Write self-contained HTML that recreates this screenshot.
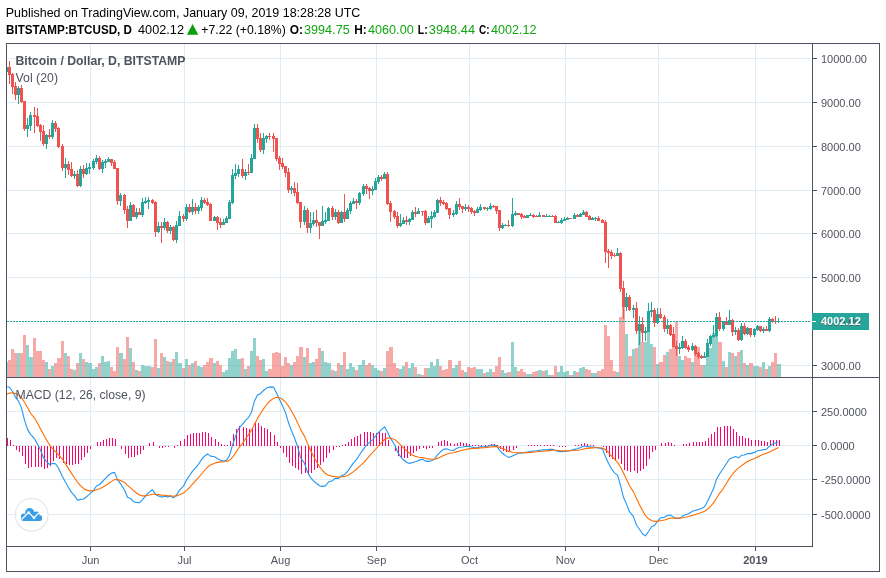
<!DOCTYPE html>
<html><head><meta charset="utf-8"><title>BTCUSD</title>
<style>html,body{margin:0;padding:0;background:#fff}body{width:886px;height:578px;overflow:hidden;font-family:"Liberation Sans",sans-serif}</style></head>
<body>
<svg width="886" height="578" viewBox="0 0 886 578" style="display:block">
<rect width="886" height="578" fill="#fff"/>
<defs><clipPath id="c1"><rect x="7" y="44" width="805" height="333"/></clipPath><clipPath id="c2"><rect x="7" y="378" width="805" height="168"/></clipPath></defs>
<g fill="#E1ECF2" shape-rendering="crispEdges"><rect x="90" y="44" width="1" height="333"/><rect x="90" y="378" width="1" height="168"/><rect x="184" y="44" width="1" height="333"/><rect x="184" y="378" width="1" height="168"/><rect x="280" y="44" width="1" height="333"/><rect x="280" y="378" width="1" height="168"/><rect x="376" y="44" width="1" height="333"/><rect x="376" y="378" width="1" height="168"/><rect x="469" y="44" width="1" height="333"/><rect x="469" y="378" width="1" height="168"/><rect x="565" y="44" width="1" height="333"/><rect x="565" y="378" width="1" height="168"/><rect x="658" y="44" width="1" height="333"/><rect x="658" y="378" width="1" height="168"/><rect x="755" y="44" width="1" height="333"/><rect x="755" y="378" width="1" height="168"/><rect x="7" y="365" width="804" height="1"/><rect x="7" y="321" width="804" height="1"/><rect x="7" y="277" width="804" height="1"/><rect x="7" y="233" width="804" height="1"/><rect x="7" y="190" width="804" height="1"/><rect x="7" y="146" width="804" height="1"/><rect x="7" y="102" width="804" height="1"/><rect x="7" y="58" width="804" height="1"/><rect x="7" y="411" width="804" height="1"/><rect x="7" y="445" width="804" height="1"/><rect x="7" y="479" width="804" height="1"/><rect x="7" y="514" width="804" height="1"/></g>
<g clip-path="url(#c1)" shape-rendering="crispEdges">
<g fill="#EF5350" fill-opacity="0.5"><rect x="8" y="360" width="3" height="17"/><rect x="11" y="349" width="3" height="28"/><rect x="14" y="353" width="3" height="24"/><rect x="20" y="353" width="3" height="24"/><rect x="23" y="335" width="3" height="42"/><rect x="33" y="338" width="3" height="39"/><rect x="36" y="351" width="3" height="26"/><rect x="39" y="351" width="3" height="26"/><rect x="42" y="360" width="3" height="17"/><rect x="48" y="369" width="3" height="8"/><rect x="54" y="363" width="3" height="14"/><rect x="57" y="358" width="4" height="19"/><rect x="61" y="341" width="3" height="36"/><rect x="67" y="356" width="3" height="21"/><rect x="70" y="369" width="3" height="8"/><rect x="76" y="363" width="3" height="14"/><rect x="82" y="359" width="3" height="18"/><rect x="98" y="363" width="3" height="14"/><rect x="110" y="367" width="3" height="10"/><rect x="113" y="371" width="3" height="6"/><rect x="116" y="347" width="3" height="30"/><rect x="123" y="359" width="3" height="18"/><rect x="126" y="337" width="3" height="40"/><rect x="132" y="362" width="3" height="15"/><rect x="138" y="371" width="3" height="6"/><rect x="151" y="367" width="3" height="10"/><rect x="154" y="339" width="3" height="38"/><rect x="160" y="353" width="3" height="24"/><rect x="166" y="361" width="3" height="16"/><rect x="172" y="359" width="3" height="18"/><rect x="182" y="368" width="3" height="9"/><rect x="188" y="365" width="3" height="12"/><rect x="194" y="361" width="3" height="16"/><rect x="203" y="365" width="3" height="12"/><rect x="206" y="362" width="3" height="15"/><rect x="209" y="358" width="4" height="19"/><rect x="216" y="361" width="3" height="16"/><rect x="219" y="365" width="3" height="12"/><rect x="241" y="358" width="3" height="19"/><rect x="247" y="366" width="3" height="11"/><rect x="256" y="356" width="3" height="21"/><rect x="259" y="360" width="3" height="17"/><rect x="268" y="369" width="4" height="8"/><rect x="272" y="353" width="3" height="24"/><rect x="275" y="352" width="3" height="25"/><rect x="278" y="353" width="3" height="24"/><rect x="281" y="366" width="3" height="11"/><rect x="284" y="357" width="3" height="20"/><rect x="287" y="363" width="3" height="14"/><rect x="293" y="362" width="3" height="15"/><rect x="296" y="356" width="3" height="21"/><rect x="299" y="347" width="4" height="30"/><rect x="306" y="348" width="3" height="29"/><rect x="315" y="359" width="3" height="18"/><rect x="318" y="348" width="3" height="29"/><rect x="331" y="370" width="3" height="7"/><rect x="337" y="363" width="3" height="14"/><rect x="343" y="352" width="3" height="25"/><rect x="355" y="370" width="3" height="7"/><rect x="365" y="365" width="3" height="12"/><rect x="368" y="363" width="3" height="14"/><rect x="380" y="371" width="3" height="6"/><rect x="386" y="351" width="3" height="26"/><rect x="389" y="347" width="4" height="30"/><rect x="393" y="363" width="3" height="14"/><rect x="396" y="368" width="3" height="9"/><rect x="405" y="362" width="3" height="15"/><rect x="414" y="367" width="3" height="10"/><rect x="421" y="375" width="3" height="2"/><rect x="424" y="368" width="3" height="9"/><rect x="439" y="366" width="3" height="11"/><rect x="442" y="370" width="3" height="7"/><rect x="445" y="369" width="3" height="8"/><rect x="448" y="360" width="4" height="17"/><rect x="458" y="361" width="3" height="16"/><rect x="461" y="370" width="3" height="7"/><rect x="467" y="367" width="3" height="10"/><rect x="470" y="368" width="3" height="9"/><rect x="473" y="367" width="3" height="10"/><rect x="483" y="373" width="3" height="4"/><rect x="492" y="372" width="3" height="5"/><rect x="495" y="366" width="3" height="11"/><rect x="498" y="357" width="3" height="20"/><rect x="507" y="372" width="4" height="5"/><rect x="517" y="371" width="3" height="6"/><rect x="520" y="369" width="3" height="8"/><rect x="523" y="372" width="3" height="5"/><rect x="532" y="372" width="3" height="5"/><rect x="535" y="371" width="3" height="6"/><rect x="542" y="371" width="3" height="6"/><rect x="551" y="375" width="3" height="2"/><rect x="554" y="366" width="3" height="11"/><rect x="569" y="375" width="4" height="2"/><rect x="576" y="372" width="3" height="5"/><rect x="585" y="369" width="3" height="8"/><rect x="588" y="370" width="3" height="7"/><rect x="597" y="371" width="4" height="6"/><rect x="601" y="369" width="3" height="8"/><rect x="604" y="325" width="3" height="52"/><rect x="607" y="336" width="3" height="41"/><rect x="610" y="360" width="3" height="17"/><rect x="613" y="371" width="3" height="6"/><rect x="619" y="317" width="3" height="60"/><rect x="622" y="297" width="3" height="80"/><rect x="628" y="356" width="4" height="21"/><rect x="635" y="348" width="3" height="29"/><rect x="641" y="342" width="3" height="35"/><rect x="653" y="347" width="3" height="30"/><rect x="659" y="362" width="4" height="15"/><rect x="663" y="355" width="3" height="22"/><rect x="669" y="349" width="3" height="28"/><rect x="672" y="347" width="3" height="30"/><rect x="675" y="322" width="3" height="55"/><rect x="684" y="356" width="3" height="21"/><rect x="687" y="358" width="4" height="19"/><rect x="694" y="347" width="3" height="30"/><rect x="697" y="347" width="3" height="30"/><rect x="700" y="365" width="3" height="12"/><rect x="718" y="342" width="4" height="35"/><rect x="725" y="367" width="3" height="10"/><rect x="731" y="353" width="3" height="24"/><rect x="737" y="352" width="3" height="25"/><rect x="743" y="363" width="3" height="14"/><rect x="749" y="363" width="4" height="14"/><rect x="759" y="367" width="3" height="10"/><rect x="765" y="369" width="3" height="8"/><rect x="771" y="362" width="3" height="15"/><rect x="774" y="353" width="3" height="24"/></g>
<g fill="#26A69A" fill-opacity="0.5"><rect x="5" y="362" width="3" height="15"/><rect x="17" y="353" width="3" height="24"/><rect x="26" y="345" width="3" height="32"/><rect x="29" y="357" width="4" height="20"/><rect x="45" y="362" width="3" height="15"/><rect x="51" y="366" width="3" height="11"/><rect x="64" y="353" width="3" height="24"/><rect x="73" y="370" width="3" height="7"/><rect x="79" y="353" width="3" height="24"/><rect x="85" y="362" width="3" height="15"/><rect x="88" y="363" width="4" height="14"/><rect x="92" y="369" width="3" height="8"/><rect x="95" y="367" width="3" height="10"/><rect x="101" y="356" width="3" height="21"/><rect x="104" y="362" width="3" height="15"/><rect x="107" y="361" width="3" height="16"/><rect x="119" y="353" width="4" height="24"/><rect x="129" y="348" width="3" height="29"/><rect x="135" y="370" width="3" height="7"/><rect x="141" y="365" width="3" height="12"/><rect x="144" y="366" width="3" height="11"/><rect x="147" y="366" width="4" height="11"/><rect x="157" y="368" width="3" height="9"/><rect x="163" y="357" width="3" height="20"/><rect x="169" y="362" width="3" height="15"/><rect x="175" y="352" width="3" height="25"/><rect x="178" y="363" width="4" height="14"/><rect x="185" y="359" width="3" height="18"/><rect x="191" y="363" width="3" height="14"/><rect x="197" y="366" width="3" height="11"/><rect x="200" y="367" width="3" height="10"/><rect x="213" y="363" width="3" height="14"/><rect x="222" y="372" width="3" height="5"/><rect x="225" y="370" width="3" height="7"/><rect x="228" y="358" width="3" height="19"/><rect x="231" y="351" width="3" height="26"/><rect x="234" y="349" width="3" height="28"/><rect x="237" y="359" width="4" height="18"/><rect x="244" y="369" width="3" height="8"/><rect x="250" y="351" width="3" height="26"/><rect x="253" y="338" width="3" height="39"/><rect x="262" y="359" width="3" height="18"/><rect x="265" y="371" width="3" height="6"/><rect x="290" y="365" width="3" height="12"/><rect x="303" y="357" width="3" height="20"/><rect x="309" y="363" width="3" height="14"/><rect x="312" y="362" width="3" height="15"/><rect x="321" y="351" width="3" height="26"/><rect x="324" y="362" width="3" height="15"/><rect x="327" y="363" width="4" height="14"/><rect x="334" y="371" width="3" height="6"/><rect x="340" y="365" width="3" height="12"/><rect x="346" y="369" width="3" height="8"/><rect x="349" y="363" width="3" height="14"/><rect x="352" y="367" width="3" height="10"/><rect x="358" y="365" width="4" height="12"/><rect x="362" y="360" width="3" height="17"/><rect x="371" y="365" width="3" height="12"/><rect x="374" y="368" width="3" height="9"/><rect x="377" y="370" width="3" height="7"/><rect x="383" y="368" width="3" height="9"/><rect x="399" y="369" width="3" height="8"/><rect x="402" y="366" width="3" height="11"/><rect x="408" y="368" width="3" height="9"/><rect x="411" y="363" width="3" height="14"/><rect x="417" y="374" width="4" height="3"/><rect x="427" y="368" width="3" height="9"/><rect x="430" y="362" width="3" height="15"/><rect x="433" y="366" width="3" height="11"/><rect x="436" y="359" width="3" height="18"/><rect x="452" y="368" width="3" height="9"/><rect x="455" y="365" width="3" height="12"/><rect x="464" y="372" width="3" height="5"/><rect x="476" y="369" width="3" height="8"/><rect x="479" y="369" width="4" height="8"/><rect x="486" y="372" width="3" height="5"/><rect x="489" y="369" width="3" height="8"/><rect x="501" y="370" width="3" height="7"/><rect x="504" y="373" width="3" height="4"/><rect x="511" y="342" width="3" height="35"/><rect x="514" y="367" width="3" height="10"/><rect x="526" y="374" width="3" height="3"/><rect x="529" y="374" width="3" height="3"/><rect x="538" y="370" width="4" height="7"/><rect x="545" y="370" width="3" height="7"/><rect x="548" y="375" width="3" height="2"/><rect x="557" y="372" width="3" height="5"/><rect x="560" y="366" width="3" height="11"/><rect x="563" y="372" width="3" height="5"/><rect x="566" y="371" width="3" height="6"/><rect x="573" y="371" width="3" height="6"/><rect x="579" y="368" width="3" height="9"/><rect x="582" y="367" width="3" height="10"/><rect x="591" y="373" width="3" height="4"/><rect x="594" y="373" width="3" height="4"/><rect x="616" y="372" width="3" height="5"/><rect x="625" y="334" width="3" height="43"/><rect x="632" y="349" width="3" height="28"/><rect x="638" y="329" width="3" height="48"/><rect x="644" y="342" width="3" height="35"/><rect x="647" y="332" width="3" height="45"/><rect x="650" y="344" width="3" height="33"/><rect x="656" y="364" width="3" height="13"/><rect x="666" y="352" width="3" height="25"/><rect x="678" y="356" width="3" height="21"/><rect x="681" y="360" width="3" height="17"/><rect x="691" y="362" width="3" height="15"/><rect x="703" y="365" width="3" height="12"/><rect x="706" y="355" width="3" height="22"/><rect x="709" y="348" width="3" height="29"/><rect x="712" y="333" width="3" height="44"/><rect x="715" y="336" width="3" height="41"/><rect x="722" y="361" width="3" height="16"/><rect x="728" y="352" width="3" height="25"/><rect x="734" y="356" width="3" height="21"/><rect x="740" y="350" width="3" height="27"/><rect x="746" y="365" width="3" height="12"/><rect x="753" y="366" width="3" height="11"/><rect x="756" y="366" width="3" height="11"/><rect x="762" y="362" width="3" height="15"/><rect x="768" y="366" width="3" height="11"/><rect x="777" y="364" width="4" height="13"/></g>
<g fill="#EF5350"><rect x="9" y="61" width="1" height="23"/><rect x="8" y="67" width="3" height="8"/><rect x="12" y="73" width="1" height="21"/><rect x="11" y="74" width="3" height="13"/><rect x="15" y="82" width="1" height="18"/><rect x="14" y="86" width="3" height="9"/><rect x="21" y="85" width="1" height="18"/><rect x="20" y="88" width="3" height="14"/><rect x="24" y="101" width="1" height="30"/><rect x="23" y="101" width="3" height="28"/><rect x="34" y="107" width="1" height="26"/><rect x="33" y="115" width="3" height="2"/><rect x="37" y="108" width="1" height="19"/><rect x="36" y="116" width="3" height="10"/><rect x="40" y="124" width="1" height="17"/><rect x="39" y="125" width="3" height="7"/><rect x="43" y="125" width="1" height="21"/><rect x="42" y="131" width="3" height="13"/><rect x="49" y="129" width="1" height="10"/><rect x="48" y="135" width="3" height="2"/><rect x="55" y="121" width="1" height="11"/><rect x="54" y="123" width="3" height="6"/><rect x="58" y="127" width="1" height="21"/><rect x="57" y="128" width="3" height="19"/><rect x="62" y="144" width="1" height="27"/><rect x="61" y="146" width="3" height="22"/><rect x="68" y="161" width="1" height="14"/><rect x="67" y="164" width="3" height="6"/><rect x="71" y="162" width="1" height="15"/><rect x="70" y="169" width="3" height="7"/><rect x="77" y="170" width="1" height="17"/><rect x="76" y="174" width="3" height="12"/><rect x="83" y="165" width="1" height="13"/><rect x="82" y="169" width="3" height="5"/><rect x="99" y="156" width="1" height="14"/><rect x="98" y="158" width="3" height="11"/><rect x="111" y="159" width="1" height="7"/><rect x="110" y="159" width="3" height="4"/><rect x="114" y="160" width="1" height="9"/><rect x="113" y="162" width="3" height="7"/><rect x="117" y="168" width="1" height="37"/><rect x="116" y="168" width="3" height="33"/><rect x="124" y="194" width="1" height="20"/><rect x="123" y="195" width="3" height="15"/><rect x="127" y="206" width="1" height="22"/><rect x="126" y="209" width="3" height="12"/><rect x="133" y="204" width="1" height="13"/><rect x="132" y="205" width="3" height="12"/><rect x="139" y="208" width="1" height="7"/><rect x="138" y="212" width="3" height="3"/><rect x="152" y="199" width="1" height="5"/><rect x="151" y="200" width="3" height="3"/><rect x="155" y="201" width="1" height="36"/><rect x="154" y="202" width="3" height="30"/><rect x="161" y="222" width="1" height="21"/><rect x="160" y="226" width="3" height="2"/><rect x="167" y="221" width="1" height="12"/><rect x="166" y="222" width="3" height="9"/><rect x="173" y="226" width="1" height="15"/><rect x="172" y="227" width="3" height="13"/><rect x="183" y="214" width="1" height="8"/><rect x="182" y="216" width="3" height="3"/><rect x="189" y="204" width="1" height="9"/><rect x="188" y="207" width="3" height="5"/><rect x="195" y="203" width="1" height="11"/><rect x="194" y="207" width="3" height="4"/><rect x="204" y="198" width="1" height="6"/><rect x="203" y="200" width="3" height="3"/><rect x="207" y="198" width="1" height="8"/><rect x="206" y="202" width="3" height="3"/><rect x="210" y="203" width="1" height="18"/><rect x="209" y="204" width="3" height="17"/><rect x="217" y="216" width="1" height="14"/><rect x="216" y="217" width="3" height="6"/><rect x="220" y="218" width="1" height="10"/><rect x="219" y="222" width="3" height="3"/><rect x="242" y="159" width="1" height="19"/><rect x="241" y="169" width="3" height="7"/><rect x="248" y="164" width="1" height="11"/><rect x="247" y="172" width="3" height="1"/><rect x="257" y="124" width="1" height="19"/><rect x="256" y="128" width="3" height="11"/><rect x="260" y="133" width="1" height="19"/><rect x="259" y="138" width="3" height="12"/><rect x="269" y="133" width="1" height="7"/><rect x="268" y="136" width="3" height="1"/><rect x="273" y="133" width="1" height="19"/><rect x="272" y="136" width="3" height="3"/><rect x="276" y="138" width="1" height="23"/><rect x="275" y="138" width="3" height="21"/><rect x="279" y="156" width="1" height="14"/><rect x="278" y="158" width="3" height="6"/><rect x="282" y="158" width="1" height="11"/><rect x="281" y="163" width="3" height="4"/><rect x="285" y="166" width="1" height="11"/><rect x="284" y="166" width="3" height="7"/><rect x="288" y="168" width="1" height="25"/><rect x="287" y="172" width="3" height="18"/><rect x="294" y="182" width="1" height="14"/><rect x="293" y="188" width="3" height="5"/><rect x="297" y="183" width="1" height="21"/><rect x="296" y="192" width="3" height="11"/><rect x="300" y="202" width="1" height="26"/><rect x="299" y="202" width="3" height="20"/><rect x="307" y="208" width="1" height="25"/><rect x="306" y="210" width="3" height="18"/><rect x="316" y="210" width="1" height="17"/><rect x="315" y="220" width="3" height="3"/><rect x="319" y="222" width="1" height="17"/><rect x="318" y="222" width="3" height="4"/><rect x="332" y="206" width="1" height="14"/><rect x="331" y="208" width="3" height="9"/><rect x="338" y="210" width="1" height="14"/><rect x="337" y="212" width="3" height="11"/><rect x="344" y="194" width="1" height="28"/><rect x="343" y="212" width="3" height="7"/><rect x="356" y="199" width="1" height="10"/><rect x="355" y="201" width="3" height="2"/><rect x="366" y="184" width="1" height="10"/><rect x="365" y="186" width="3" height="3"/><rect x="369" y="187" width="1" height="12"/><rect x="368" y="188" width="3" height="3"/><rect x="381" y="175" width="1" height="6"/><rect x="380" y="177" width="3" height="2"/><rect x="387" y="172" width="1" height="33"/><rect x="386" y="174" width="3" height="30"/><rect x="390" y="201" width="1" height="21"/><rect x="389" y="203" width="3" height="9"/><rect x="394" y="210" width="1" height="9"/><rect x="393" y="211" width="3" height="6"/><rect x="397" y="212" width="1" height="16"/><rect x="396" y="216" width="3" height="10"/><rect x="406" y="216" width="1" height="9"/><rect x="405" y="220" width="3" height="2"/><rect x="415" y="207" width="1" height="10"/><rect x="414" y="212" width="3" height="2"/><rect x="422" y="211" width="1" height="5"/><rect x="421" y="211" width="3" height="1"/><rect x="425" y="210" width="1" height="15"/><rect x="424" y="211" width="3" height="12"/><rect x="440" y="197" width="1" height="9"/><rect x="439" y="200" width="3" height="3"/><rect x="443" y="200" width="1" height="5"/><rect x="442" y="202" width="3" height="2"/><rect x="446" y="202" width="1" height="8"/><rect x="445" y="203" width="3" height="6"/><rect x="449" y="208" width="1" height="11"/><rect x="448" y="208" width="3" height="7"/><rect x="459" y="198" width="1" height="12"/><rect x="458" y="204" width="3" height="3"/><rect x="462" y="206" width="1" height="7"/><rect x="461" y="206" width="3" height="3"/><rect x="468" y="205" width="1" height="7"/><rect x="467" y="207" width="3" height="2"/><rect x="471" y="207" width="1" height="7"/><rect x="470" y="208" width="3" height="4"/><rect x="474" y="210" width="1" height="6"/><rect x="473" y="211" width="3" height="2"/><rect x="484" y="207" width="1" height="3"/><rect x="483" y="207" width="3" height="2"/><rect x="493" y="205" width="1" height="3"/><rect x="492" y="206" width="3" height="1"/><rect x="496" y="206" width="1" height="8"/><rect x="495" y="206" width="3" height="5"/><rect x="499" y="210" width="1" height="21"/><rect x="498" y="210" width="3" height="18"/><rect x="508" y="220" width="1" height="7"/><rect x="507" y="225" width="3" height="1"/><rect x="518" y="213" width="1" height="2"/><rect x="517" y="213" width="3" height="2"/><rect x="521" y="213" width="1" height="6"/><rect x="520" y="214" width="3" height="3"/><rect x="524" y="215" width="1" height="3"/><rect x="523" y="216" width="3" height="2"/><rect x="533" y="214" width="1" height="4"/><rect x="532" y="215" width="3" height="2"/><rect x="536" y="215" width="1" height="2"/><rect x="535" y="216" width="3" height="1"/><rect x="543" y="215" width="1" height="2"/><rect x="542" y="215" width="3" height="2"/><rect x="552" y="215" width="1" height="2"/><rect x="551" y="216" width="3" height="1"/><rect x="555" y="215" width="1" height="8"/><rect x="554" y="216" width="3" height="7"/><rect x="570" y="218" width="1" height="1"/><rect x="569" y="218" width="3" height="1"/><rect x="577" y="214" width="1" height="3"/><rect x="576" y="215" width="3" height="2"/><rect x="586" y="211" width="1" height="6"/><rect x="585" y="212" width="3" height="5"/><rect x="589" y="215" width="1" height="5"/><rect x="588" y="216" width="3" height="4"/><rect x="598" y="216" width="1" height="5"/><rect x="597" y="218" width="3" height="3"/><rect x="602" y="219" width="1" height="4"/><rect x="601" y="220" width="3" height="3"/><rect x="605" y="220" width="1" height="43"/><rect x="604" y="222" width="3" height="30"/><rect x="608" y="249" width="1" height="19"/><rect x="607" y="251" width="3" height="2"/><rect x="611" y="250" width="1" height="9"/><rect x="610" y="252" width="3" height="4"/><rect x="614" y="253" width="1" height="4"/><rect x="613" y="255" width="3" height="1"/><rect x="620" y="252" width="1" height="40"/><rect x="619" y="253" width="3" height="36"/><rect x="623" y="281" width="1" height="38"/><rect x="622" y="288" width="3" height="19"/><rect x="629" y="295" width="1" height="16"/><rect x="628" y="297" width="3" height="13"/><rect x="636" y="302" width="1" height="32"/><rect x="635" y="308" width="3" height="23"/><rect x="642" y="317" width="1" height="25"/><rect x="641" y="324" width="3" height="9"/><rect x="654" y="308" width="1" height="19"/><rect x="653" y="310" width="3" height="13"/><rect x="660" y="308" width="1" height="11"/><rect x="659" y="314" width="3" height="4"/><rect x="664" y="315" width="1" height="17"/><rect x="663" y="317" width="3" height="12"/><rect x="670" y="324" width="1" height="12"/><rect x="669" y="325" width="3" height="10"/><rect x="673" y="327" width="1" height="20"/><rect x="672" y="334" width="3" height="13"/><rect x="676" y="341" width="1" height="15"/><rect x="675" y="346" width="3" height="3"/><rect x="685" y="339" width="1" height="10"/><rect x="684" y="341" width="3" height="7"/><rect x="688" y="345" width="1" height="7"/><rect x="687" y="347" width="3" height="3"/><rect x="695" y="345" width="1" height="11"/><rect x="694" y="346" width="3" height="8"/><rect x="698" y="352" width="1" height="7"/><rect x="697" y="353" width="3" height="4"/><rect x="701" y="355" width="1" height="4"/><rect x="700" y="356" width="3" height="2"/><rect x="719" y="312" width="1" height="19"/><rect x="718" y="317" width="3" height="12"/><rect x="726" y="317" width="1" height="8"/><rect x="725" y="322" width="3" height="3"/><rect x="732" y="319" width="1" height="17"/><rect x="731" y="320" width="3" height="12"/><rect x="738" y="328" width="1" height="13"/><rect x="737" y="330" width="3" height="10"/><rect x="744" y="323" width="1" height="12"/><rect x="743" y="326" width="3" height="8"/><rect x="750" y="328" width="1" height="9"/><rect x="749" y="328" width="3" height="7"/><rect x="760" y="326" width="1" height="6"/><rect x="759" y="326" width="3" height="5"/><rect x="766" y="326" width="1" height="5"/><rect x="765" y="329" width="3" height="2"/><rect x="772" y="318" width="1" height="5"/><rect x="771" y="319" width="3" height="3"/><rect x="775" y="316" width="1" height="8"/><rect x="774" y="321" width="3" height="1"/></g>
<g fill="#26A69A"><rect x="6" y="60" width="1" height="13"/><rect x="5" y="67" width="3" height="5"/><rect x="18" y="86" width="1" height="18"/><rect x="17" y="88" width="3" height="7"/><rect x="27" y="118" width="1" height="19"/><rect x="26" y="125" width="3" height="4"/><rect x="30" y="112" width="1" height="19"/><rect x="29" y="115" width="3" height="11"/><rect x="46" y="134" width="1" height="15"/><rect x="45" y="135" width="3" height="9"/><rect x="52" y="120" width="1" height="19"/><rect x="51" y="123" width="3" height="14"/><rect x="65" y="158" width="1" height="20"/><rect x="64" y="164" width="3" height="4"/><rect x="74" y="171" width="1" height="8"/><rect x="73" y="174" width="3" height="2"/><rect x="80" y="166" width="1" height="21"/><rect x="79" y="169" width="3" height="17"/><rect x="86" y="163" width="1" height="12"/><rect x="85" y="168" width="3" height="6"/><rect x="89" y="163" width="1" height="11"/><rect x="88" y="167" width="3" height="2"/><rect x="93" y="159" width="1" height="11"/><rect x="92" y="161" width="3" height="7"/><rect x="96" y="155" width="1" height="9"/><rect x="95" y="158" width="3" height="4"/><rect x="102" y="160" width="1" height="13"/><rect x="101" y="162" width="3" height="7"/><rect x="105" y="159" width="1" height="9"/><rect x="104" y="161" width="3" height="2"/><rect x="108" y="157" width="1" height="5"/><rect x="107" y="159" width="3" height="3"/><rect x="120" y="193" width="1" height="13"/><rect x="119" y="195" width="3" height="6"/><rect x="130" y="202" width="1" height="19"/><rect x="129" y="205" width="3" height="16"/><rect x="136" y="208" width="1" height="11"/><rect x="135" y="212" width="3" height="5"/><rect x="142" y="198" width="1" height="19"/><rect x="141" y="202" width="3" height="13"/><rect x="145" y="197" width="1" height="7"/><rect x="144" y="201" width="3" height="2"/><rect x="148" y="197" width="1" height="12"/><rect x="147" y="200" width="3" height="2"/><rect x="158" y="222" width="1" height="11"/><rect x="157" y="226" width="3" height="6"/><rect x="164" y="218" width="1" height="12"/><rect x="163" y="222" width="3" height="6"/><rect x="170" y="225" width="1" height="9"/><rect x="169" y="227" width="3" height="4"/><rect x="176" y="221" width="1" height="22"/><rect x="175" y="225" width="3" height="15"/><rect x="179" y="211" width="1" height="15"/><rect x="178" y="216" width="3" height="10"/><rect x="186" y="204" width="1" height="17"/><rect x="185" y="207" width="3" height="12"/><rect x="192" y="199" width="1" height="16"/><rect x="191" y="207" width="3" height="5"/><rect x="198" y="205" width="1" height="9"/><rect x="197" y="207" width="3" height="4"/><rect x="201" y="197" width="1" height="14"/><rect x="200" y="200" width="3" height="8"/><rect x="214" y="216" width="1" height="5"/><rect x="213" y="217" width="3" height="4"/><rect x="223" y="219" width="1" height="6"/><rect x="222" y="222" width="3" height="3"/><rect x="226" y="216" width="1" height="7"/><rect x="225" y="218" width="3" height="5"/><rect x="229" y="200" width="1" height="19"/><rect x="228" y="202" width="3" height="17"/><rect x="232" y="169" width="1" height="35"/><rect x="231" y="175" width="3" height="28"/><rect x="235" y="164" width="1" height="15"/><rect x="234" y="173" width="3" height="3"/><rect x="238" y="165" width="1" height="12"/><rect x="237" y="169" width="3" height="5"/><rect x="245" y="169" width="1" height="11"/><rect x="244" y="172" width="3" height="4"/><rect x="251" y="154" width="1" height="19"/><rect x="250" y="158" width="3" height="15"/><rect x="254" y="124" width="1" height="35"/><rect x="253" y="128" width="3" height="31"/><rect x="263" y="133" width="1" height="21"/><rect x="262" y="138" width="3" height="12"/><rect x="266" y="135" width="1" height="8"/><rect x="265" y="136" width="3" height="3"/><rect x="291" y="186" width="1" height="8"/><rect x="290" y="188" width="3" height="2"/><rect x="304" y="206" width="1" height="19"/><rect x="303" y="210" width="3" height="12"/><rect x="310" y="212" width="1" height="21"/><rect x="309" y="223" width="3" height="5"/><rect x="313" y="212" width="1" height="14"/><rect x="312" y="220" width="3" height="4"/><rect x="322" y="206" width="1" height="20"/><rect x="321" y="221" width="3" height="5"/><rect x="325" y="212" width="1" height="12"/><rect x="324" y="220" width="3" height="2"/><rect x="328" y="207" width="1" height="14"/><rect x="327" y="208" width="3" height="13"/><rect x="335" y="209" width="1" height="11"/><rect x="334" y="212" width="3" height="5"/><rect x="341" y="211" width="1" height="12"/><rect x="340" y="212" width="3" height="11"/><rect x="347" y="208" width="1" height="11"/><rect x="346" y="210" width="3" height="9"/><rect x="350" y="201" width="1" height="13"/><rect x="349" y="203" width="3" height="8"/><rect x="353" y="198" width="1" height="6"/><rect x="352" y="201" width="3" height="3"/><rect x="359" y="192" width="1" height="13"/><rect x="358" y="193" width="3" height="10"/><rect x="363" y="184" width="1" height="12"/><rect x="362" y="186" width="3" height="8"/><rect x="372" y="186" width="1" height="9"/><rect x="371" y="189" width="3" height="2"/><rect x="375" y="178" width="1" height="12"/><rect x="374" y="181" width="3" height="9"/><rect x="378" y="175" width="1" height="9"/><rect x="377" y="177" width="3" height="5"/><rect x="384" y="172" width="1" height="7"/><rect x="383" y="174" width="3" height="5"/><rect x="400" y="214" width="1" height="13"/><rect x="399" y="223" width="3" height="3"/><rect x="403" y="217" width="1" height="7"/><rect x="402" y="220" width="3" height="4"/><rect x="409" y="218" width="1" height="7"/><rect x="408" y="219" width="3" height="3"/><rect x="412" y="210" width="1" height="10"/><rect x="411" y="212" width="3" height="8"/><rect x="418" y="208" width="1" height="6"/><rect x="417" y="211" width="3" height="3"/><rect x="428" y="216" width="1" height="7"/><rect x="427" y="218" width="3" height="5"/><rect x="431" y="211" width="1" height="17"/><rect x="430" y="216" width="3" height="3"/><rect x="434" y="210" width="1" height="8"/><rect x="433" y="212" width="3" height="5"/><rect x="437" y="199" width="1" height="14"/><rect x="436" y="200" width="3" height="13"/><rect x="453" y="210" width="1" height="7"/><rect x="452" y="213" width="3" height="2"/><rect x="456" y="201" width="1" height="14"/><rect x="455" y="204" width="3" height="10"/><rect x="465" y="204" width="1" height="7"/><rect x="464" y="207" width="3" height="2"/><rect x="477" y="207" width="1" height="6"/><rect x="476" y="209" width="3" height="4"/><rect x="480" y="204" width="1" height="7"/><rect x="479" y="207" width="3" height="3"/><rect x="487" y="207" width="1" height="4"/><rect x="486" y="208" width="3" height="1"/><rect x="490" y="203" width="1" height="7"/><rect x="489" y="206" width="3" height="3"/><rect x="502" y="223" width="1" height="6"/><rect x="501" y="225" width="3" height="3"/><rect x="505" y="224" width="1" height="2"/><rect x="504" y="225" width="3" height="1"/><rect x="512" y="198" width="1" height="29"/><rect x="511" y="214" width="3" height="12"/><rect x="515" y="211" width="1" height="5"/><rect x="514" y="213" width="3" height="2"/><rect x="527" y="215" width="1" height="3"/><rect x="526" y="215" width="3" height="3"/><rect x="530" y="213" width="1" height="3"/><rect x="529" y="215" width="3" height="1"/><rect x="539" y="212" width="1" height="5"/><rect x="538" y="215" width="3" height="2"/><rect x="546" y="214" width="1" height="3"/><rect x="545" y="216" width="3" height="1"/><rect x="549" y="215" width="1" height="2"/><rect x="548" y="216" width="3" height="1"/><rect x="558" y="221" width="1" height="2"/><rect x="557" y="222" width="3" height="1"/><rect x="561" y="218" width="1" height="6"/><rect x="560" y="220" width="3" height="3"/><rect x="564" y="217" width="1" height="4"/><rect x="563" y="219" width="3" height="2"/><rect x="567" y="217" width="1" height="3"/><rect x="566" y="218" width="3" height="2"/><rect x="574" y="213" width="1" height="6"/><rect x="573" y="215" width="3" height="4"/><rect x="580" y="213" width="1" height="4"/><rect x="579" y="214" width="3" height="3"/><rect x="583" y="210" width="1" height="5"/><rect x="582" y="212" width="3" height="3"/><rect x="592" y="217" width="1" height="3"/><rect x="591" y="218" width="3" height="2"/><rect x="595" y="217" width="1" height="4"/><rect x="594" y="218" width="3" height="1"/><rect x="617" y="248" width="1" height="8"/><rect x="616" y="253" width="3" height="3"/><rect x="626" y="293" width="1" height="18"/><rect x="625" y="297" width="3" height="10"/><rect x="633" y="305" width="1" height="13"/><rect x="632" y="308" width="3" height="2"/><rect x="639" y="316" width="1" height="29"/><rect x="638" y="324" width="3" height="7"/><rect x="645" y="327" width="1" height="14"/><rect x="644" y="331" width="3" height="2"/><rect x="648" y="303" width="1" height="29"/><rect x="647" y="311" width="3" height="21"/><rect x="651" y="302" width="1" height="15"/><rect x="650" y="310" width="3" height="2"/><rect x="657" y="308" width="1" height="16"/><rect x="656" y="314" width="3" height="9"/><rect x="667" y="319" width="1" height="15"/><rect x="666" y="325" width="3" height="4"/><rect x="679" y="343" width="1" height="11"/><rect x="678" y="347" width="3" height="2"/><rect x="682" y="336" width="1" height="13"/><rect x="681" y="341" width="3" height="7"/><rect x="692" y="343" width="1" height="8"/><rect x="691" y="346" width="3" height="4"/><rect x="704" y="352" width="1" height="6"/><rect x="703" y="356" width="3" height="2"/><rect x="707" y="339" width="1" height="18"/><rect x="706" y="343" width="3" height="14"/><rect x="710" y="335" width="1" height="11"/><rect x="709" y="336" width="3" height="8"/><rect x="713" y="325" width="1" height="13"/><rect x="712" y="335" width="3" height="2"/><rect x="716" y="313" width="1" height="24"/><rect x="715" y="317" width="3" height="19"/><rect x="723" y="321" width="1" height="10"/><rect x="722" y="322" width="3" height="7"/><rect x="729" y="310" width="1" height="15"/><rect x="728" y="320" width="3" height="5"/><rect x="735" y="327" width="1" height="8"/><rect x="734" y="330" width="3" height="2"/><rect x="741" y="323" width="1" height="18"/><rect x="740" y="326" width="3" height="14"/><rect x="747" y="327" width="1" height="8"/><rect x="746" y="328" width="3" height="6"/><rect x="754" y="328" width="1" height="9"/><rect x="753" y="329" width="3" height="6"/><rect x="757" y="325" width="1" height="6"/><rect x="756" y="326" width="3" height="4"/><rect x="763" y="327" width="1" height="6"/><rect x="762" y="329" width="3" height="2"/><rect x="769" y="317" width="1" height="15"/><rect x="768" y="319" width="3" height="12"/><rect x="778" y="318" width="1" height="5"/><rect x="777" y="321" width="3" height="1"/></g>
</g>
<line x1="7" y1="321.5" x2="810" y2="321.5" stroke="#26A69A" stroke-width="1" stroke-dasharray="2 1" shape-rendering="crispEdges"/>
<g clip-path="url(#c2)">
<g fill="#FF006E" shape-rendering="crispEdges"><rect x="7" y="438" width="1" height="8"/><rect x="10" y="440" width="1" height="6"/><rect x="13" y="445" width="1" height="1"/><rect x="16" y="446" width="1" height="4"/><rect x="19" y="446" width="1" height="6"/><rect x="22" y="446" width="1" height="10"/><rect x="25" y="446" width="1" height="18"/><rect x="28" y="446" width="1" height="22"/><rect x="31" y="446" width="1" height="21"/><rect x="35" y="446" width="1" height="21"/><rect x="38" y="446" width="1" height="21"/><rect x="41" y="446" width="1" height="21"/><rect x="44" y="446" width="1" height="23"/><rect x="47" y="446" width="1" height="22"/><rect x="50" y="446" width="1" height="20"/><rect x="53" y="446" width="1" height="15"/><rect x="56" y="446" width="1" height="12"/><rect x="59" y="446" width="1" height="13"/><rect x="63" y="446" width="1" height="17"/><rect x="66" y="446" width="1" height="18"/><rect x="69" y="446" width="1" height="19"/><rect x="72" y="446" width="1" height="19"/><rect x="75" y="446" width="1" height="18"/><rect x="78" y="446" width="1" height="18"/><rect x="81" y="446" width="1" height="14"/><rect x="84" y="446" width="1" height="11"/><rect x="87" y="446" width="1" height="7"/><rect x="90" y="446" width="1" height="3"/><rect x="97" y="442" width="1" height="4"/><rect x="100" y="442" width="1" height="4"/><rect x="103" y="440" width="1" height="6"/><rect x="106" y="439" width="1" height="7"/><rect x="109" y="438" width="1" height="8"/><rect x="112" y="438" width="1" height="8"/><rect x="115" y="439" width="1" height="7"/><rect x="121" y="446" width="1" height="3"/><rect x="125" y="446" width="1" height="8"/><rect x="128" y="446" width="1" height="12"/><rect x="131" y="446" width="1" height="11"/><rect x="134" y="446" width="1" height="11"/><rect x="137" y="446" width="1" height="9"/><rect x="140" y="446" width="1" height="8"/><rect x="143" y="446" width="1" height="4"/><rect x="149" y="443" width="1" height="3"/><rect x="153" y="442" width="1" height="4"/><rect x="159" y="446" width="1" height="2"/><rect x="162" y="446" width="1" height="2"/><rect x="165" y="446" width="1" height="1"/><rect x="168" y="446" width="1" height="1"/><rect x="174" y="446" width="1" height="2"/><rect x="177" y="445" width="1" height="1"/><rect x="180" y="441" width="1" height="5"/><rect x="184" y="439" width="1" height="7"/><rect x="187" y="435" width="1" height="11"/><rect x="190" y="434" width="1" height="12"/><rect x="193" y="433" width="1" height="13"/><rect x="196" y="433" width="1" height="13"/><rect x="199" y="433" width="1" height="13"/><rect x="202" y="432" width="1" height="14"/><rect x="205" y="432" width="1" height="14"/><rect x="208" y="433" width="1" height="13"/><rect x="211" y="437" width="1" height="9"/><rect x="215" y="439" width="1" height="7"/><rect x="218" y="442" width="1" height="4"/><rect x="221" y="444" width="1" height="2"/><rect x="224" y="445" width="1" height="1"/><rect x="227" y="445" width="1" height="1"/><rect x="230" y="441" width="1" height="5"/><rect x="233" y="434" width="1" height="12"/><rect x="236" y="429" width="1" height="17"/><rect x="239" y="426" width="1" height="20"/><rect x="243" y="427" width="1" height="19"/><rect x="246" y="428" width="1" height="18"/><rect x="249" y="429" width="1" height="17"/><rect x="252" y="428" width="1" height="18"/><rect x="255" y="423" width="1" height="23"/><rect x="258" y="423" width="1" height="23"/><rect x="261" y="426" width="1" height="20"/><rect x="264" y="428" width="1" height="18"/><rect x="267" y="429" width="1" height="17"/><rect x="270" y="432" width="1" height="14"/><rect x="274" y="435" width="1" height="11"/><rect x="277" y="442" width="1" height="4"/><rect x="280" y="446" width="1" height="2"/><rect x="283" y="446" width="1" height="7"/><rect x="286" y="446" width="1" height="11"/><rect x="289" y="446" width="1" height="17"/><rect x="292" y="446" width="1" height="20"/><rect x="295" y="446" width="1" height="22"/><rect x="298" y="446" width="1" height="24"/><rect x="301" y="446" width="1" height="28"/><rect x="305" y="446" width="1" height="27"/><rect x="308" y="446" width="1" height="29"/><rect x="311" y="446" width="1" height="27"/><rect x="314" y="446" width="1" height="24"/><rect x="317" y="446" width="1" height="22"/><rect x="320" y="446" width="1" height="19"/><rect x="323" y="446" width="1" height="16"/><rect x="326" y="446" width="1" height="12"/><rect x="329" y="446" width="1" height="7"/><rect x="333" y="446" width="1" height="4"/><rect x="336" y="446" width="1" height="1"/><rect x="339" y="446" width="1" height="1"/><rect x="342" y="445" width="1" height="1"/><rect x="345" y="444" width="1" height="2"/><rect x="348" y="442" width="1" height="4"/><rect x="351" y="439" width="1" height="7"/><rect x="354" y="437" width="1" height="9"/><rect x="357" y="436" width="1" height="10"/><rect x="360" y="434" width="1" height="12"/><rect x="364" y="432" width="1" height="14"/><rect x="367" y="432" width="1" height="14"/><rect x="370" y="432" width="1" height="14"/><rect x="373" y="433" width="1" height="13"/><rect x="376" y="433" width="1" height="13"/><rect x="379" y="432" width="1" height="14"/><rect x="382" y="433" width="1" height="13"/><rect x="385" y="433" width="1" height="13"/><rect x="388" y="440" width="1" height="6"/><rect x="395" y="446" width="1" height="5"/><rect x="398" y="446" width="1" height="10"/><rect x="401" y="446" width="1" height="12"/><rect x="404" y="446" width="1" height="12"/><rect x="407" y="446" width="1" height="12"/><rect x="410" y="446" width="1" height="10"/><rect x="413" y="446" width="1" height="7"/><rect x="416" y="446" width="1" height="5"/><rect x="419" y="446" width="1" height="3"/><rect x="423" y="446" width="1" height="2"/><rect x="426" y="446" width="1" height="3"/><rect x="429" y="446" width="1" height="2"/><rect x="432" y="446" width="1" height="2"/><rect x="438" y="442" width="1" height="4"/><rect x="441" y="441" width="1" height="5"/><rect x="444" y="440" width="1" height="6"/><rect x="447" y="441" width="1" height="5"/><rect x="450" y="443" width="1" height="3"/><rect x="454" y="444" width="1" height="2"/><rect x="457" y="443" width="1" height="3"/><rect x="460" y="442" width="1" height="4"/><rect x="463" y="443" width="1" height="3"/><rect x="466" y="443" width="1" height="3"/><rect x="469" y="444" width="1" height="2"/><rect x="472" y="445" width="1" height="1"/><rect x="475" y="445" width="1" height="1"/><rect x="478" y="445" width="1" height="1"/><rect x="481" y="445" width="1" height="1"/><rect x="485" y="445" width="1" height="1"/><rect x="488" y="445" width="1" height="1"/><rect x="491" y="444" width="1" height="2"/><rect x="494" y="444" width="1" height="2"/><rect x="497" y="445" width="1" height="1"/><rect x="500" y="446" width="1" height="3"/><rect x="503" y="446" width="1" height="5"/><rect x="506" y="446" width="1" height="6"/><rect x="509" y="446" width="1" height="6"/><rect x="513" y="446" width="1" height="4"/><rect x="516" y="446" width="1" height="2"/><rect x="528" y="445" width="1" height="1"/><rect x="531" y="445" width="1" height="1"/><rect x="534" y="445" width="1" height="1"/><rect x="537" y="445" width="1" height="1"/><rect x="540" y="445" width="1" height="1"/><rect x="544" y="445" width="1" height="1"/><rect x="547" y="445" width="1" height="1"/><rect x="550" y="445" width="1" height="1"/><rect x="553" y="445" width="1" height="1"/><rect x="559" y="446" width="1" height="1"/><rect x="562" y="446" width="1" height="1"/><rect x="565" y="446" width="1" height="1"/><rect x="575" y="445" width="1" height="1"/><rect x="578" y="445" width="1" height="1"/><rect x="581" y="444" width="1" height="2"/><rect x="584" y="443" width="1" height="3"/><rect x="587" y="444" width="1" height="2"/><rect x="590" y="445" width="1" height="1"/><rect x="593" y="445" width="1" height="1"/><rect x="603" y="446" width="1" height="1"/><rect x="606" y="446" width="1" height="7"/><rect x="609" y="446" width="1" height="11"/><rect x="612" y="446" width="1" height="13"/><rect x="615" y="446" width="1" height="14"/><rect x="618" y="446" width="1" height="13"/><rect x="621" y="446" width="1" height="18"/><rect x="624" y="446" width="1" height="24"/><rect x="627" y="446" width="1" height="25"/><rect x="630" y="446" width="1" height="26"/><rect x="634" y="446" width="1" height="25"/><rect x="637" y="446" width="1" height="27"/><rect x="640" y="446" width="1" height="25"/><rect x="643" y="446" width="1" height="23"/><rect x="646" y="446" width="1" height="20"/><rect x="649" y="446" width="1" height="13"/><rect x="652" y="446" width="1" height="6"/><rect x="655" y="446" width="1" height="4"/><rect x="661" y="443" width="1" height="3"/><rect x="665" y="443" width="1" height="3"/><rect x="668" y="442" width="1" height="4"/><rect x="671" y="443" width="1" height="3"/><rect x="674" y="445" width="1" height="1"/><rect x="683" y="444" width="1" height="2"/><rect x="686" y="444" width="1" height="2"/><rect x="689" y="443" width="1" height="3"/><rect x="693" y="442" width="1" height="4"/><rect x="696" y="442" width="1" height="4"/><rect x="699" y="442" width="1" height="4"/><rect x="702" y="442" width="1" height="4"/><rect x="705" y="441" width="1" height="5"/><rect x="708" y="438" width="1" height="8"/><rect x="711" y="434" width="1" height="12"/><rect x="714" y="432" width="1" height="14"/><rect x="717" y="427" width="1" height="19"/><rect x="720" y="427" width="1" height="19"/><rect x="724" y="426" width="1" height="20"/><rect x="727" y="426" width="1" height="20"/><rect x="730" y="426" width="1" height="20"/><rect x="733" y="429" width="1" height="17"/><rect x="736" y="432" width="1" height="14"/><rect x="739" y="436" width="1" height="10"/><rect x="742" y="436" width="1" height="10"/><rect x="745" y="438" width="1" height="8"/><rect x="748" y="438" width="1" height="8"/><rect x="751" y="440" width="1" height="6"/><rect x="755" y="440" width="1" height="6"/><rect x="758" y="440" width="1" height="6"/><rect x="761" y="441" width="1" height="5"/><rect x="764" y="441" width="1" height="5"/><rect x="767" y="442" width="1" height="4"/><rect x="770" y="440" width="1" height="6"/><rect x="773" y="440" width="1" height="6"/><rect x="776" y="440" width="1" height="6"/><rect x="779" y="440" width="1" height="6"/></g>
<polyline points="6.5,386.6 9.5,387.3 12.5,391.5 15.5,397.3 18.5,401.1 21.5,407.9 24.5,420.2 27.5,429.4 30.5,434.4 34.5,438.7 37.5,444.3 40.5,450.1 43.5,457.7 46.5,461.6 49.5,464.5 52.5,463.4 55.5,463.7 58.5,468.2 62.5,476.7 65.5,482.3 68.5,487.5 71.5,492.4 74.5,495.6 77.5,500.3 80.5,499.4 83.5,499.0 86.5,496.8 89.5,494.2 93.5,490.3 96.5,486.0 99.5,484.5 102.5,481.5 105.5,478.4 108.5,475.2 111.5,473.1 114.5,472.4 117.5,479.6 120.5,483.6 124.5,490.0 127.5,497.2 130.5,498.5 133.5,501.7 136.5,502.4 139.5,502.8 142.5,499.6 145.5,496.1 148.5,492.6 152.5,489.8 155.5,494.4 158.5,496.1 161.5,497.1 164.5,496.2 167.5,496.9 170.5,496.1 173.5,497.8 176.5,495.0 179.5,490.1 183.5,486.2 186.5,479.9 189.5,475.7 192.5,471.1 195.5,467.9 198.5,464.3 201.5,459.6 204.5,456.2 207.5,453.9 210.5,456.1 214.5,456.8 217.5,458.6 220.5,460.2 223.5,461.0 226.5,460.3 229.5,455.6 232.5,445.2 235.5,436.4 238.5,428.6 242.5,424.3 245.5,420.3 248.5,417.6 251.5,412.2 254.5,400.9 257.5,395.1 260.5,393.7 263.5,390.5 266.5,388.1 269.5,386.9 273.5,387.1 276.5,392.9 279.5,399.4 282.5,405.8 285.5,412.6 288.5,422.7 291.5,430.6 294.5,438.0 297.5,446.2 300.5,457.5 304.5,463.4 307.5,472.1 310.5,477.6 313.5,480.8 316.5,483.5 319.5,485.8 322.5,486.4 325.5,485.9 328.5,482.0 332.5,480.7 335.5,478.2 338.5,478.4 341.5,475.7 344.5,474.6 347.5,471.5 350.5,467.1 353.5,462.9 356.5,459.7 359.5,454.8 363.5,449.1 366.5,445.0 369.5,442.4 372.5,439.9 375.5,436.2 378.5,432.3 381.5,429.7 384.5,426.8 387.5,432.0 390.5,438.4 394.5,444.5 397.5,451.7 400.5,456.7 403.5,459.8 406.5,462.2 409.5,463.4 412.5,462.5 415.5,461.7 418.5,460.4 422.5,459.3 425.5,461.1 428.5,461.4 431.5,460.8 434.5,459.1 437.5,454.8 440.5,451.8 443.5,449.4 446.5,448.8 449.5,450.0 453.5,450.5 456.5,448.4 459.5,447.3 462.5,447.0 465.5,446.5 468.5,446.4 471.5,447.0 474.5,447.8 477.5,447.6 480.5,446.9 484.5,446.6 487.5,446.3 490.5,445.5 493.5,445.0 496.5,445.6 499.5,450.2 502.5,453.3 505.5,455.6 508.5,457.4 512.5,455.9 515.5,454.4 518.5,453.3 521.5,452.9 524.5,452.6 527.5,452.0 530.5,451.3 533.5,451.0 536.5,450.7 539.5,450.2 543.5,449.9 546.5,449.7 549.5,449.4 552.5,449.2 555.5,450.5 558.5,451.4 561.5,451.6 564.5,451.4 567.5,450.9 570.5,450.5 574.5,449.4 577.5,448.7 580.5,447.6 583.5,446.3 586.5,446.2 589.5,446.9 592.5,447.1 595.5,447.3 598.5,447.9 602.5,448.9 605.5,456.9 608.5,463.3 611.5,468.7 614.5,472.9 617.5,475.1 620.5,485.3 623.5,497.3 626.5,504.1 629.5,511.7 633.5,516.6 636.5,525.2 639.5,529.3 642.5,533.8 645.5,535.9 648.5,531.5 651.5,526.8 654.5,525.4 657.5,521.3 660.5,517.8 664.5,517.3 667.5,515.3 670.5,515.1 673.5,517.1 676.5,518.4 679.5,518.4 682.5,516.1 685.5,514.8 688.5,513.7 692.5,511.2 695.5,510.3 698.5,509.6 701.5,508.5 704.5,506.8 707.5,501.4 710.5,494.9 713.5,488.8 716.5,479.2 719.5,474.0 723.5,468.0 726.5,463.5 729.5,458.7 732.5,457.7 735.5,456.5 738.5,457.8 741.5,455.3 744.5,455.0 747.5,453.5 750.5,453.6 754.5,452.4 757.5,450.7 760.5,450.2 763.5,449.6 766.5,449.2 769.5,446.2 772.5,444.3 775.5,442.9 778.5,441.7" fill="none" stroke="#2196F3" stroke-width="1.1" stroke-linejoin="round"/>
<polyline points="6.5,394.4 9.5,393.0 12.5,392.7 15.5,393.6 18.5,395.1 21.5,397.7 24.5,402.2 27.5,407.6 30.5,413.0 34.5,418.1 37.5,423.3 40.5,428.7 43.5,434.5 46.5,439.9 49.5,444.8 52.5,448.6 55.5,451.6 58.5,454.9 62.5,459.3 65.5,463.9 68.5,468.6 71.5,473.4 74.5,477.8 77.5,482.3 80.5,485.7 83.5,488.4 86.5,490.1 89.5,490.9 93.5,490.8 96.5,489.8 99.5,488.8 102.5,487.3 105.5,485.5 108.5,483.5 111.5,481.4 114.5,479.6 117.5,479.6 120.5,480.4 124.5,482.3 127.5,485.3 130.5,487.9 133.5,490.7 136.5,493.0 139.5,495.0 142.5,495.9 145.5,495.9 148.5,495.3 152.5,494.2 155.5,494.2 158.5,494.6 161.5,495.1 164.5,495.3 167.5,495.6 170.5,495.7 173.5,496.2 176.5,495.9 179.5,494.8 183.5,493.1 186.5,490.4 189.5,487.5 192.5,484.2 195.5,480.9 198.5,477.6 201.5,474.0 204.5,470.5 207.5,467.2 210.5,464.9 214.5,463.3 217.5,462.4 220.5,461.9 223.5,461.8 226.5,461.5 229.5,460.3 232.5,457.3 235.5,453.1 238.5,448.2 242.5,443.4 245.5,438.8 248.5,434.6 251.5,430.1 254.5,424.2 257.5,418.4 260.5,413.5 263.5,408.9 266.5,404.7 269.5,401.2 273.5,398.4 276.5,397.3 279.5,397.7 282.5,399.3 285.5,402.0 288.5,406.1 291.5,411.0 294.5,416.4 297.5,422.4 300.5,429.4 304.5,436.2 307.5,443.4 310.5,450.2 313.5,456.3 316.5,461.8 319.5,466.6 322.5,470.5 325.5,473.6 328.5,475.3 332.5,476.4 335.5,476.7 338.5,477.1 341.5,476.8 344.5,476.4 347.5,475.4 350.5,473.7 353.5,471.6 356.5,469.2 359.5,466.3 363.5,462.9 366.5,459.3 369.5,455.9 372.5,452.7 375.5,449.4 378.5,446.0 381.5,442.7 384.5,439.5 387.5,438.0 390.5,438.1 394.5,439.4 397.5,441.9 400.5,444.8 403.5,447.8 406.5,450.7 409.5,453.2 412.5,455.1 415.5,456.4 418.5,457.2 422.5,457.6 425.5,458.3 428.5,458.9 431.5,459.3 434.5,459.3 437.5,458.4 440.5,457.1 443.5,455.5 446.5,454.2 449.5,453.3 453.5,452.8 456.5,451.9 459.5,451.0 462.5,450.2 465.5,449.5 468.5,448.9 471.5,448.5 474.5,448.4 477.5,448.2 480.5,447.9 484.5,447.7 487.5,447.4 490.5,447.0 493.5,446.6 496.5,446.4 499.5,447.2 502.5,448.4 505.5,449.8 508.5,451.4 512.5,452.3 515.5,452.7 518.5,452.8 521.5,452.8 524.5,452.8 527.5,452.6 530.5,452.4 533.5,452.1 536.5,451.8 539.5,451.5 543.5,451.2 546.5,450.9 549.5,450.6 552.5,450.3 555.5,450.3 558.5,450.5 561.5,450.7 564.5,450.9 567.5,450.9 570.5,450.8 574.5,450.5 577.5,450.2 580.5,449.7 583.5,449.0 586.5,448.4 589.5,448.1 592.5,447.9 595.5,447.8 598.5,447.8 602.5,448.0 605.5,449.8 608.5,452.5 611.5,455.8 614.5,459.2 617.5,462.4 620.5,467.0 623.5,473.0 626.5,479.2 629.5,485.7 633.5,491.9 636.5,498.6 639.5,504.7 642.5,510.5 645.5,515.6 648.5,518.8 651.5,520.4 654.5,521.4 657.5,521.4 660.5,520.7 664.5,520.0 667.5,519.0 670.5,518.2 673.5,518.0 676.5,518.1 679.5,518.1 682.5,517.7 685.5,517.2 688.5,516.5 692.5,515.4 695.5,514.4 698.5,513.4 701.5,512.4 704.5,511.3 707.5,509.3 710.5,506.4 713.5,502.9 716.5,498.2 719.5,493.3 723.5,488.3 726.5,483.3 729.5,478.4 732.5,474.3 735.5,470.7 738.5,468.1 741.5,465.6 744.5,463.5 747.5,461.5 750.5,459.9 754.5,458.4 757.5,456.9 760.5,455.5 763.5,454.3 766.5,453.3 769.5,451.9 772.5,450.4 775.5,448.9 778.5,447.5" fill="none" stroke="#FF6D00" stroke-width="1.1" stroke-linejoin="round"/>
</g>
<g fill="#4C525E" shape-rendering="crispEdges"><rect x="6" y="43" width="874" height="1"/><rect x="6" y="571" width="874" height="1"/><rect x="6" y="43" width="1" height="529"/><rect x="879" y="43" width="1" height="529"/><rect x="812" y="43" width="1" height="504"/><rect x="6" y="377" width="874" height="1"/><rect x="6" y="546" width="807" height="1"/><rect x="813" y="365" width="4" height="1"/><rect x="813" y="321" width="4" height="1"/><rect x="813" y="277" width="4" height="1"/><rect x="813" y="233" width="4" height="1"/><rect x="813" y="190" width="4" height="1"/><rect x="813" y="146" width="4" height="1"/><rect x="813" y="102" width="4" height="1"/><rect x="813" y="58" width="4" height="1"/><rect x="813" y="411" width="4" height="1"/><rect x="813" y="445" width="4" height="1"/><rect x="813" y="479" width="4" height="1"/><rect x="813" y="514" width="4" height="1"/><rect x="90" y="547" width="1" height="4"/><rect x="184" y="547" width="1" height="4"/><rect x="280" y="547" width="1" height="4"/><rect x="376" y="547" width="1" height="4"/><rect x="469" y="547" width="1" height="4"/><rect x="565" y="547" width="1" height="4"/><rect x="658" y="547" width="1" height="4"/><rect x="755" y="547" width="1" height="4"/></g>
<rect x="812" y="313" width="57" height="17" fill="#26A69A" shape-rendering="crispEdges"/>
<rect x="812" y="321" width="4" height="1" fill="#fff" shape-rendering="crispEdges"/>
<g font-family="Liberation Sans, sans-serif" style="will-change:transform"><text x="821" y="369.5" font-size="11" font-weight="normal" fill="#50535E" text-anchor="start">3000.00</text><text x="821" y="325.5" font-size="11" font-weight="normal" fill="#50535E" text-anchor="start">4000.00</text><text x="821" y="281.5" font-size="11" font-weight="normal" fill="#50535E" text-anchor="start">5000.00</text><text x="821" y="237.5" font-size="11" font-weight="normal" fill="#50535E" text-anchor="start">6000.00</text><text x="821" y="194.5" font-size="11" font-weight="normal" fill="#50535E" text-anchor="start">7000.00</text><text x="821" y="150.5" font-size="11" font-weight="normal" fill="#50535E" text-anchor="start">8000.00</text><text x="821" y="106.5" font-size="11" font-weight="normal" fill="#50535E" text-anchor="start">9000.00</text><text x="821" y="62.5" font-size="11" font-weight="normal" fill="#50535E" text-anchor="start">10000.00</text><text x="821" y="415.5" font-size="11" font-weight="normal" fill="#50535E" text-anchor="start">250.0000</text><text x="821" y="449.5" font-size="11" font-weight="normal" fill="#50535E" text-anchor="start">0.0000</text><text x="821" y="483.5" font-size="11" font-weight="normal" fill="#50535E" text-anchor="start">-250.0000</text><text x="821" y="518.5" font-size="11" font-weight="normal" fill="#50535E" text-anchor="start">-500.0000</text><text x="821" y="325" font-size="11" font-weight="bold" fill="#fff" text-anchor="start">4002.12</text><text x="90.5" y="564" font-size="11" font-weight="normal" fill="#50535E" text-anchor="middle">Jun</text><text x="184.5" y="564" font-size="11" font-weight="normal" fill="#50535E" text-anchor="middle">Jul</text><text x="280.5" y="564" font-size="11" font-weight="normal" fill="#50535E" text-anchor="middle">Aug</text><text x="376.5" y="564" font-size="11" font-weight="normal" fill="#50535E" text-anchor="middle">Sep</text><text x="469.5" y="564" font-size="11" font-weight="normal" fill="#50535E" text-anchor="middle">Oct</text><text x="565.5" y="564" font-size="11" font-weight="normal" fill="#50535E" text-anchor="middle">Nov</text><text x="658.5" y="564" font-size="11" font-weight="normal" fill="#50535E" text-anchor="middle">Dec</text><text x="755.5" y="564" font-size="11" font-weight="bold" fill="#50535E" text-anchor="middle">2019</text><text x="15.5" y="65" font-size="12" font-weight="bold" fill="#50535E" text-anchor="start" textLength="170" lengthAdjust="spacingAndGlyphs">Bitcoin / Dollar, D, BITSTAMP</text><text x="15.5" y="82" font-size="12" font-weight="normal" fill="#50535E" text-anchor="start" textLength="42.5" lengthAdjust="spacingAndGlyphs">Vol (20)</text><text x="15.5" y="399" font-size="12" font-weight="normal" fill="#50535E" text-anchor="start" textLength="130" lengthAdjust="spacingAndGlyphs">MACD (12, 26, close, 9)</text><text x="5.8" y="16.7" font-size="13" font-weight="normal" fill="#000" text-anchor="start" textLength="354.5" lengthAdjust="spacingAndGlyphs">Published on TradingView.com, January 09, 2019 18:28:28 UTC</text><text x="6" y="34" font-size="13" font-weight="bold" fill="#000" text-anchor="start" textLength="126" lengthAdjust="spacingAndGlyphs">BITSTAMP:BTCUSD, D</text><text x="138" y="34" font-size="13" font-weight="normal" fill="#000" text-anchor="start" textLength="46" lengthAdjust="spacingAndGlyphs">4002.12</text><text x="201.3" y="34" font-size="13" font-weight="normal" fill="#000" text-anchor="start" textLength="84.5" lengthAdjust="spacingAndGlyphs">+7.22 (+0.18%)</text><text x="289.8" y="34" font-size="13" font-weight="bold" fill="#000" text-anchor="start" textLength="13.3" lengthAdjust="spacingAndGlyphs">O:</text><text x="304" y="34" font-size="13" font-weight="normal" fill="#12A512" text-anchor="start" textLength="45.7" lengthAdjust="spacingAndGlyphs">3994.75</text><text x="354.2" y="34" font-size="13" font-weight="bold" fill="#000" text-anchor="start" textLength="12.5" lengthAdjust="spacingAndGlyphs">H:</text><text x="368" y="34" font-size="13" font-weight="normal" fill="#12A512" text-anchor="start" textLength="45.7" lengthAdjust="spacingAndGlyphs">4060.00</text><text x="417.8" y="34" font-size="13" font-weight="bold" fill="#000" text-anchor="start" textLength="9.8" lengthAdjust="spacingAndGlyphs">L:</text><text x="428.8" y="34" font-size="13" font-weight="normal" fill="#12A512" text-anchor="start" textLength="46.2" lengthAdjust="spacingAndGlyphs">3948.44</text><text x="479" y="34" font-size="13" font-weight="bold" fill="#000" text-anchor="start" textLength="10.5" lengthAdjust="spacingAndGlyphs">C:</text><text x="491" y="34" font-size="13" font-weight="normal" fill="#12A512" text-anchor="start" textLength="45.6" lengthAdjust="spacingAndGlyphs">4002.12</text></g>
<path d="M186.9 34.8 L192.6 24 L198.3 34.8 Z" fill="#0AA00A"/>
<circle cx="31.55" cy="514.7" r="16.4" fill="#fff" stroke="#E6E7EA" stroke-width="1.2"/>
<g fill="#3A9EE6"><circle cx="23.4" cy="516" r="2.5"/><circle cx="29.7" cy="512.7" r="4.6"/><circle cx="36.2" cy="514.8" r="3.2"/><circle cx="39.6" cy="517.6" r="2.4"/><rect x="21.2" y="515.5" width="20.8" height="5.4" rx="2.2"/></g>
<polyline points="21.6,519.2 28.6,512.6 34,517.8 39.4,512.4" fill="none" stroke="#fff" stroke-width="1.25"/><circle cx="28.6" cy="512.6" r="1.35" fill="#fff"/><circle cx="34" cy="517.8" r="1.35" fill="#fff"/>
</svg>
</body></html>
